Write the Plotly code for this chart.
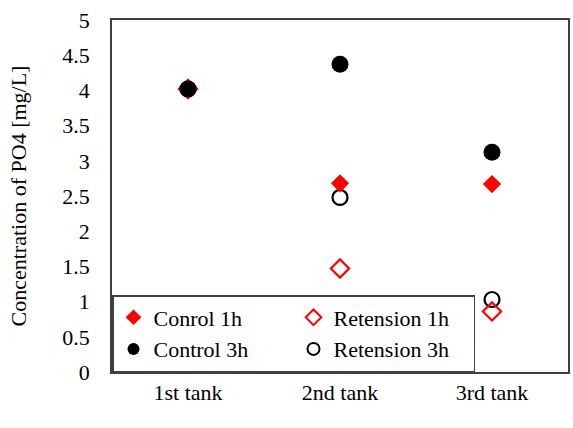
import plotly.graph_objects as go

# Sampling points along the treatment line
tanks = ["1st tank", "2nd tank", "3rd tank"]

# PO4 concentration [mg/L] per tank
control_1h = [4.02, 2.68, 2.67]
retention_1h = [4.02, 1.47, 0.86]
control_3h = [4.02, 4.37, 3.12]
retention_3h = [4.02, 2.48, 1.03]

y_ticks = [0, 0.5, 1, 1.5, 2, 2.5, 3, 3.5, 4, 4.5, 5]
y_tick_text = ["0", "0.5", "1", "1.5", "2", "2.5", "3", "3.5", "4", "4.5", "5"]

FONT = "Liberation Serif"
FS = 22

fig = go.Figure()

fig.add_trace(go.Scatter(
    x=tanks, y=retention_3h, name="Retension 3h", mode="markers",
    marker=dict(symbol="circle-open", size=15, color="black", line=dict(width=2.2)),
    legendrank=4,
))
fig.add_trace(go.Scatter(
    x=tanks, y=retention_1h, name="Retension 1h", mode="markers",
    marker=dict(symbol="diamond-open", size=14, color="red", line=dict(width=2.2)),
    legendrank=2,
))
fig.add_trace(go.Scatter(
    x=tanks, y=control_1h, name="Conrol 1h", mode="markers",
    marker=dict(symbol="diamond", size=14, color="red"),
    legendrank=1,
))
fig.add_trace(go.Scatter(
    x=tanks, y=control_3h, name="Control 3h", mode="markers",
    marker=dict(symbol="circle", size=17, color="black"),
    legendrank=3,
))

fig.update_layout(
    width=573, height=428,
    margin=dict(l=112, r=3, t=20, b=56),
    paper_bgcolor="white", plot_bgcolor="white",
    font=dict(family=FONT, size=FS, color="black"),
    showlegend=True,
    legend=dict(
        orientation="h",
        x=0, y=0, xanchor="left", yanchor="bottom",
        bgcolor="white", bordercolor="#404040", borderwidth=1.5,
        entrywidth=135, traceorder="normal",
        font=dict(family=FONT, size=FS, color="black"),
        itemsizing="constant", itemwidth=30,
    ),
    xaxis=dict(
        showgrid=False, zeroline=False, showline=True, mirror=True,
        linecolor="#404040", linewidth=1.5, ticks="",
        tickfont=dict(family=FONT, size=FS),
        range=[-0.5, 2.5],
    ),
    yaxis=dict(
        range=[0, 5], tickvals=y_ticks, ticktext=y_tick_text,
        showgrid=False, zeroline=False, showline=True, mirror=True,
        linecolor="#404040", linewidth=1.5, ticks="",
        ticklabelstandoff=16,
        tickfont=dict(family=FONT, size=FS),
        title=dict(text="Concentration of PO4 [mg/L]", font=dict(family=FONT, size=FS), standoff=30),
    ),
)

fig.write_html("out.html")
